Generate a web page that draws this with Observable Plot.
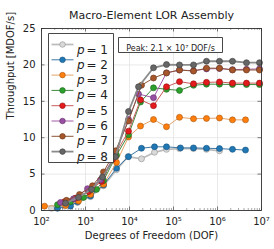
<!DOCTYPE html>
<html>
<head>
<meta charset="utf-8">
<script src="https://cdn.jsdelivr.net/npm/d3@7"></script>
<script src="https://cdn.jsdelivr.net/npm/@observablehq/plot@0.6"></script>
<style>
  html, body { margin: 0; padding: 0; background: #fff; }
</style>
</head>
<body>
<div id="chart"></div>
<script>
// ---- data ----
const labels = ["1", "2", "3", "4", "5", "6", "7", "8"];

const dof1 = [169, 333, 658, 1299, 2565, 5066, 9261, 18730, 37000, 69300, 137000, 285000, 562000, 1110000];
const thr1 = [0.3, 0.6, 1.1, 1.9, 3.4, 5.6, 7.4, 7.1, 8.0, 8.4, 8.5, 8.5, 8.4, 8.2];

const dof2 = [231, 456, 658, 1299, 2565, 5066, 9490, 18730, 37000, 69300, 144000, 285000, 562000, 1110000, 2190000, 4330000];
const thr2 = [0.3, 0.6, 1.2, 2.0, 3.5, 5.8, 7.4, 8.55, 8.75, 8.75, 8.6, 8.6, 8.55, 8.5, 8.4, 8.3];

const dof3 = [117, 351, 693, 1299, 2565, 5066, 9490, 17780, 35100, 69300, 136800, 285000, 562000, 1110000, 2190000, 4330000];
const thr3 = [0.6, 0.7, 1.3, 2.2, 3.6, 6.6, 10.1, 11.6, 12.5, 11.5, 12.8, 12.6, 12.65, 12.7, 12.45, 12.45];

const dof4 = [231, 456, 901, 1778, 2565, 5066, 9490, 17780, 35100, 69300, 136800, 285000, 562000, 1110000, 2190000, 4560000, 9000000];
const thr4 = [0.8, 1.2, 1.8, 2.9, 4.1, 7.6, 10.4, 14.9, 16.85, 16.65, 16.5, 17.2, 17.35, 17.35, 17.3, 17.3, 17.3];

const dof5 = [333, 593, 1170, 2310, 4108, 9490, 17780, 35100, 69300, 136800, 285000, 562000, 1110000, 2190000, 4560000, 9000000];
const thr5 = [1.2, 1.7, 2.6, 4.0, 7.0, 10.9, 15.2, 14.4, 17.0, 17.7, 17.4, 17.6, 17.65, 17.5, 17.5, 17.5];

const dof6 = [270, 533, 1110, 2193, 4560, 9490, 16020, 35100, 69300, 136800, 285000, 562000, 1110000, 2190000, 4560000, 9000000];
const thr6 = [1.1, 1.6, 3.0, 4.2, 7.5, 12.5, 16.0, 15.5, 18.9, 19.3, 19.2, 19.45, 19.5, 19.35, 19.4, 19.45];

const dof7 = [370, 731, 1442, 2565, 4806, 9490, 18730, 35100, 69300, 136800, 285000, 562000, 1110000, 2190000, 4560000, 9000000];
const thr7 = [1.4, 2.2, 3.4, 5.3, 8.2, 12.3, 17.2, 18.2, 18.9, 19.3, 19.15, 19.55, 19.55, 19.3, 19.3, 19.3];

const dof8 = [351, 693, 1369, 2434, 4806, 9490, 16020, 35100, 69300, 136800, 285000, 562000, 1110000, 2190000, 4560000, 9000000];
const thr8 = [1.0, 1.8, 2.9, 4.6, 7.4, 13.6, 17.0, 19.6, 20.05, 20.0, 20.0, 20.5, 20.5, 20.5, 20.3, 20.3];

const xTicks = [1e2, 1e3, 1e4, 1e5, 1e6, 1e7];
const xTickLabels = ["10²", "10³", "10⁴", "10⁵", "10⁶", "10⁷"];
const yTicks = [0, 5, 10, 15, 20, 25];
const peakLabel = "Peak: 2.1 × 10⁷ DOF/s";
const titleText = "Macro-Element LOR Assembly";
const xLabel = "Degrees of Freedom (DOF)";
const yLabel = "Throughput [MDOF/s]";

// ---- styles ----
const fills   = ["#d9d9d9", "#1f77b4", "#ff7f0e", "#2ca02c", "#e41a1c", "#984ea3", "#a6562a", "#666666"];
const outline = ["#8f8f8f", "#15507c", "#a65208", "#1b651b", "#8e1011", "#5e2f66", "#683518", "#3d3d3d"];
const lines   = ["#bdbdbd", "#3d78a6", "#e3a46a", "#3f8a3f", "#c85a5a", "#a25aa8", "#8c5636", "#8a8a8a"];
const lineW   = [1.8, 1, 1, 1, 1, 1, 1, 1.8];

const dofs = [dof1, dof2, dof3, dof4, dof5, dof6, dof7, dof8];
const thrs = [thr1, thr2, thr3, thr4, thr5, thr6, thr7, thr8];
const series = dofs.map((d, i) => d.map((x, j) => ({x, y: thrs[i][j]})));

// minor ticks for the log axis
const minorTicks = [];
for (let e = 2; e < 7; e++) for (let m = 2; m <= 9; m++) minorTicks.push(m * Math.pow(10, e));

const W = 274, H = 249;
const mL = 41, mR = 13, mT = 28, mB = 39;
const fw = W - mL - mR, fh = H - mT - mB;

// custom symbols
const hline = {draw(ctx) { ctx.moveTo(-11, 0); ctx.lineTo(11, 0); }};
const boxSym = (w, h) => ({draw(ctx) { ctx.moveTo(-w/2, -h/2); ctx.lineTo(w/2, -h/2); ctx.lineTo(w/2, h/2); ctx.lineTo(-w/2, h/2); ctx.closePath(); }});

const marks = [];
// grid
marks.push(Plot.ruleX(xTicks, {stroke: "#e3e3e3", strokeWidth: 0.8}));
marks.push(Plot.ruleY(yTicks, {stroke: "#e3e3e3", strokeWidth: 0.8}));
// series
series.forEach((s, i) => {
  marks.push(Plot.line(s, {x: "x", y: "y", stroke: lines[i], strokeWidth: lineW[i]}));
  marks.push(Plot.dot(s, {x: "x", y: "y", r: 3, fill: fills[i], stroke: outline[i], strokeWidth: 0.6}));
});
// inward ticks
marks.push(Plot.tickX(xTicks, {x: d => d, insetTop: fh - 3.5, stroke: "#444", strokeWidth: 0.7}));
marks.push(Plot.tickX(xTicks, {x: d => d, insetBottom: fh - 3.5, stroke: "#444", strokeWidth: 0.7}));
marks.push(Plot.tickX(minorTicks, {x: d => d, insetTop: fh - 2, stroke: "#555", strokeWidth: 0.5}));
marks.push(Plot.tickX(minorTicks, {x: d => d, insetBottom: fh - 2, stroke: "#555", strokeWidth: 0.5}));
marks.push(Plot.tickY(yTicks, {y: d => d, insetRight: fw - 3.5, stroke: "#444", strokeWidth: 0.7}));
marks.push(Plot.tickY(yTicks, {y: d => d, insetLeft: fw - 3.5, stroke: "#444", strokeWidth: 0.7}));
// axes labels
marks.push(Plot.axisX(xTicks, {label: null, tickSize: 0, tickPadding: 7, tickFormat: (d) => xTickLabels[xTicks.indexOf(d)], fontSize: 10, fill: "#222"}));
marks.push(Plot.axisY(yTicks, {label: null, tickSize: 0, tickPadding: 6, fontSize: 10, fill: "#222"}));
marks.push(Plot.frame({stroke: "#333", strokeWidth: 0.9}));
// legend box
marks.push(Plot.dot([0], {frameAnchor: "top-left", dx: 39.5, dy: 69.5, symbol: boxSym(65, 129), r: 1, fill: "white", stroke: "#333", strokeWidth: 0.9}));
labels.forEach((lab, i) => {
  const dy = 16 + i * 15.3;
  marks.push(Plot.dot([0], {frameAnchor: "top-left", dx: 21, dy, symbol: hline, r: 1, fill: "none", stroke: lines[i], strokeWidth: lineW[i]}));
  marks.push(Plot.dot([0], {frameAnchor: "top-left", dx: 21, dy, r: 2.8, fill: fills[i], stroke: outline[i], strokeWidth: 0.6}));
  marks.push(Plot.text(["p"], {frameAnchor: "top-left", dx: 35.5, dy: dy + 0.5, text: d => d, textAnchor: "start", fontSize: 12, fontStyle: "italic", fill: "#222"}));
  marks.push(Plot.text(["= " + lab], {frameAnchor: "top-left", dx: 45, dy: dy + 0.5, text: d => d, textAnchor: "start", fontSize: 12, fill: "#222"}));
});
// peak box
marks.push(Plot.dot([0], {frameAnchor: "top-left", dx: 129, dy: 16.5, symbol: boxSym(104, 15), r: 1, fill: "white", stroke: "#333", strokeWidth: 0.9}));
marks.push(Plot.text([peakLabel], {frameAnchor: "top-left", dx: 129, dy: 16.5, text: d => d, textAnchor: "middle", fontSize: 8, fill: "#222"}));
// titles
marks.push(Plot.text([titleText], {frameAnchor: "top", dy: -17, text: d => d, fontSize: 11, fill: "#222"}));
marks.push(Plot.text([xLabel], {frameAnchor: "bottom", dy: 28, text: d => d, fontSize: 10, fill: "#222"}));
marks.push(Plot.text([yLabel], {frameAnchor: "left", dx: -31, rotate: -90, text: d => d, fontSize: 10, fill: "#222"}));

const chart = Plot.plot({
  width: W, height: H,
  marginLeft: mL, marginRight: mR, marginTop: mT, marginBottom: mB,
  style: {fontFamily: "DejaVu Sans", background: "white", overflow: "visible"},
  x: {type: "log", domain: [1e2, 1e7], axis: null},
  y: {domain: [0, 25], axis: null},
  marks
});
document.getElementById("chart").appendChild(chart);
</script>
</body>
</html>
